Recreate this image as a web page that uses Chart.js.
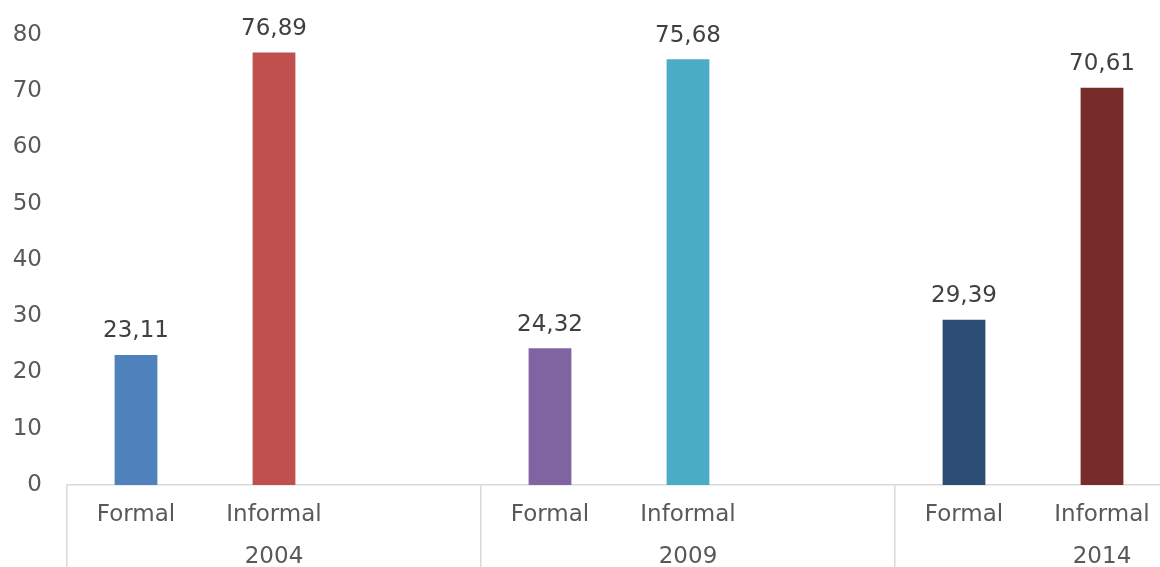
<!DOCTYPE html>
<html>
<head>
<meta charset="utf-8">
<script src="https://cdn.jsdelivr.net/npm/chart.js@4"></script>
<style>
  body { margin: 0; overflow: hidden; background: #fff; }
  #wrap { width: 1312px; height: 567px; }
</style>
</head>
<body>
<div id="wrap"><canvas id="myChart"></canvas></div>
<script>
// dane z wykresu
const years = ['2004', '2009', '2014'];
const types = ['Formal', 'Informal'];
const formal = [23.11, 24.32, 29.39];
const informal = [76.89, 75.68, 70.61];
const formalColors = ['#4F81BD', '#8064A2', '#2C4D75'];
const informalColors = ['#C0504D', '#4BACC6', '#772C2A'];

// 3 sloty na rok: Formal, Informal, pusty
const labels = [];
const values = [];
const colors = [];
for (let i = 0; i < years.length; i++) {
  labels.push([types[0], '']);
  labels.push([types[1], years[i]]);
  labels.push(['', '']);
  values.push(formal[i], informal[i], null);
  colors.push(formalColors[i], informalColors[i], 'transparent');
}

// etykiety nad słupkami
const valueLabels = {
  id: 'valueLabels',
  afterDatasetsDraw(chart) {
    const ctx = chart.ctx;
    const meta = chart.getDatasetMeta(0);
    ctx.save();
    ctx.font = '23px "DejaVu Sans"';
    ctx.fillStyle = '#404040';
    ctx.textAlign = 'center';
    ctx.textBaseline = 'bottom';
    meta.data.forEach((bar, i) => {
      const v = values[i];
      if (v == null) return;
      ctx.fillText(v.toFixed(2).replace('.', ','), bar.x, bar.y - 12);
    });
    ctx.restore();
  }
};

const myChart = new Chart(document.getElementById('myChart'), {
  type: 'bar',
  data: {
    labels: labels,
    datasets: [{
      data: values,
      backgroundColor: colors,
      borderWidth: 0,
      barPercentage: 0.31,
      categoryPercentage: 1
    }]
  },
  options: {
    responsive: true,
    maintainAspectRatio: false,
    animation: false,
    layout: { padding: { top: 35, right: 3, left: 0, bottom: 0 } },
    plugins: { legend: { display: false }, tooltip: { enabled: false } },
    scales: {
      x: {
        offset: true,
        border: { display: true, color: '#D9D9D9', width: 1.5 },
        grid: {
          offset: true,
          drawOnChartArea: false,
          tickLength: 82,
          lineWidth: 1.5,
          color: (c) => (c.index !== undefined && c.index % 3 === 0) ? '#D9D9D9' : 'rgba(0,0,0,0)'
        },
        ticks: {
          autoSkip: false,
          maxRotation: 0,
          padding: -73,
          color: '#595959',
          font: { family: 'DejaVu Sans', size: 23, lineHeight: '42px' }
        },
        afterFit: (s) => { s.height = 82; }
      },
      y: {
        min: 0,
        max: 80,
        border: { display: false },
        grid: { display: false },
        ticks: {
          stepSize: 10,
          padding: 17,
          color: '#595959',
          font: { family: 'DejaVu Sans', size: 23 }
        },
        afterFit: (s) => { s.width = 67; }
      }
    }
  },
  plugins: [valueLabels]
});
</script>
</body>
</html>
